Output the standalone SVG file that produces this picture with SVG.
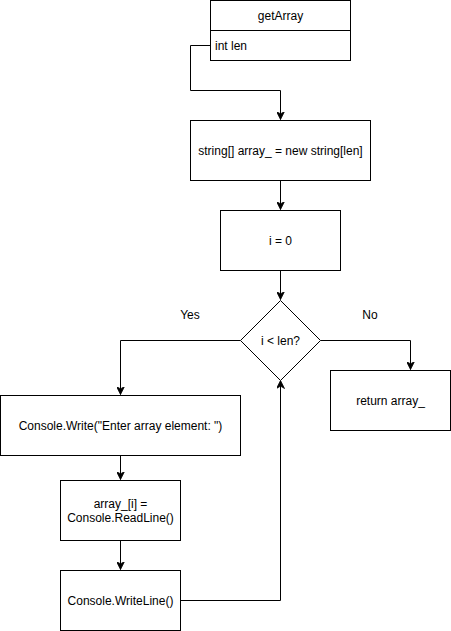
<svg xmlns="http://www.w3.org/2000/svg" width="451" height="631" viewBox="0 0 451 631">
<style>
.box{fill:#fff;stroke:#000;stroke-width:1}
.ln{fill:none;stroke:#000;stroke-width:1}
text{font-family:"Liberation Sans",Arial,Helvetica,sans-serif;font-size:12px;fill:#000}
.c{text-anchor:middle}
</style>
<defs>
<marker id="arr" viewBox="0 0 10 10" refX="10" refY="5" markerWidth="8" markerHeight="8" markerUnits="userSpaceOnUse" orient="auto">
<path d="M0,0 L10,5 L0,10 L3,5 z" fill="#000" stroke="#000" stroke-width="1"/>
</marker>
</defs>
<rect width="451" height="631" fill="#fff"/>
<g id="connectors">
<path class="ln" d="M210.5,45.5 H190.5 V90.5 H280.5 V119.5" marker-end="url(#arr)"/>
<path class="ln" d="M280.5,180.5 V209.5" marker-end="url(#arr)"/>
<path class="ln" d="M280.5,270.5 V299.5" marker-end="url(#arr)"/>
<path class="ln" d="M240.5,340.5 H120.5 V394.5" marker-end="url(#arr)"/>
<path class="ln" d="M320.5,340.5 H410.5 V369.5" marker-end="url(#arr)"/>
<path class="ln" d="M120.5,455.5 V479.5" marker-end="url(#arr)"/>
<path class="ln" d="M120.5,540.5 V569.5" marker-end="url(#arr)"/>
<path class="ln" d="M180.5,600.5 H280.5 V380.5" marker-end="url(#arr)"/>
<text class="c" x="190" y="319">Yes</text>
<text class="c" x="370" y="319">No</text>
</g>
<g id="getArray">
<rect class="box" x="210.5" y="0.5" width="140" height="60"/>
<line class="ln" x1="210.5" y1="30.5" x2="350.5" y2="30.5"/>
<text class="c" x="280.5" y="19.5">getArray</text>
<text x="215" y="49.5">int len</text>
</g>
<g id="newArray">
<rect class="box" x="190.5" y="120.5" width="180" height="60"/>
<text class="c" x="280.5" y="154.5">string[] array_ = new string[len]</text>
</g>
<g id="init">
<rect class="box" x="220.5" y="210.5" width="120" height="60"/>
<text class="c" x="280.5" y="244.5">i = 0</text>
</g>
<g id="cond">
<path class="box" d="M280.5,300.5 L320.5,340.5 L280.5,380.5 L240.5,340.5 Z"/>
<text class="c" x="280.5" y="344.5">i &lt; len?</text>
</g>
<g id="ret">
<rect class="box" x="330.5" y="370.5" width="120" height="60"/>
<text class="c" x="390.5" y="404.5">return array_</text>
</g>
<g id="write">
<rect class="box" x="0.5" y="395.5" width="240" height="60"/>
<text class="c" x="120.5" y="429.5">Console.Write("Enter array element: ")</text>
</g>
<g id="read">
<rect class="box" x="60.5" y="480.5" width="120" height="60"/>
<text class="c" x="120.5" y="507.5">array_[i] =</text>
<text class="c" x="120.5" y="521.5">Console.ReadLine()</text>
</g>
<g id="writeline">
<rect class="box" x="60.5" y="570.5" width="120" height="60"/>
<text class="c" x="120.5" y="604.5">Console.WriteLine()</text>
</g>
</svg>
